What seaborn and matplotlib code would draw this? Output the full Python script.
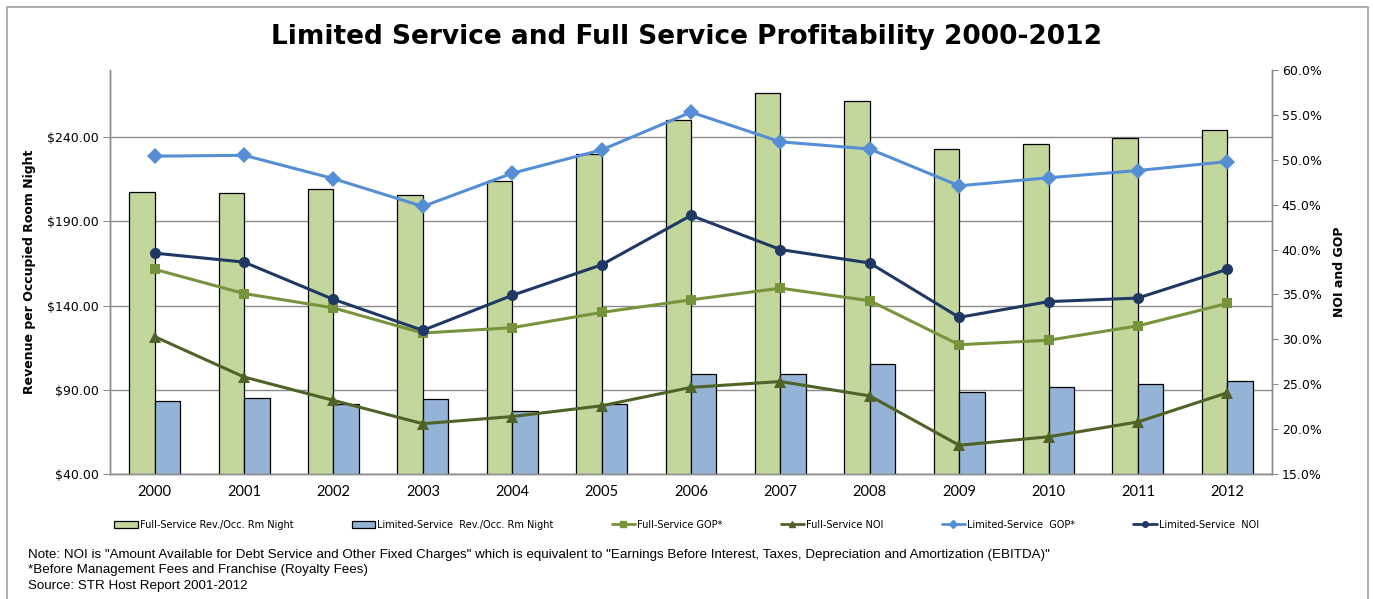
import numpy as np
import pandas as pd
import matplotlib
matplotlib.use("Agg")
import matplotlib.pyplot as plt
from matplotlib.patches import Rectangle, Patch
from matplotlib.lines import Line2D
from matplotlib.ticker import FuncFormatter, FixedLocator
import seaborn as sns

# values
years = ["2000", "2001", "2002", "2003", "2004", "2005", "2006",
         "2007", "2008", "2009", "2010", "2011", "2012"]
full_rev = [207.5, 206.9, 209.1, 206.0, 213.9, 230.1, 250.5,
            266.3, 261.5, 233.3, 236.3, 239.8, 244.6]
limited_rev = [83.5, 84.9, 81.5, 84.3, 77.6, 81.5, 99.2,
               99.2, 105.1, 88.7, 91.4, 93.4, 95.2]
full_gop = [37.8, 35.1, 33.5, 30.7, 31.3, 33.0, 34.4,
            35.7, 34.3, 29.4, 29.9, 31.5, 34.0]
full_noi = [30.3, 25.8, 23.2, 20.6, 21.4, 22.6, 24.65,
            25.3, 23.7, 18.2, 19.15, 20.8, 24.05]
limited_gop = [50.4, 50.5, 47.9, 44.8, 48.5, 51.1, 55.3,
               52.0, 51.2, 47.1, 48.0, 48.8, 49.8]
limited_noi = [39.6, 38.6, 34.45, 31.0, 34.9, 38.3, 43.8,
               40.0, 38.5, 32.45, 34.2, 34.6, 37.8]

bar_names = ["Full-Service Rev./Occ. Rm Night", "Limited-Service  Rev./Occ. Rm Night"]
bar_colors = ["#C3D69B", "#95B3D7"]

sns.set_style("white")
plt.rcParams["font.family"] = ["DejaVu Sans"]
plt.rcParams["text.color"] = "black"
plt.rcParams["axes.labelcolor"] = "black"
plt.rcParams["xtick.labelcolor"] = "black"
plt.rcParams["ytick.labelcolor"] = "black"

fig = plt.figure(figsize=(13.73, 5.99), dpi=100)
ax = fig.add_axes([110 / 1373, 1 - 474 / 599, (1272 - 110) / 1373, (474 - 70) / 599])

# bars
bars = pd.DataFrame({
    "year": years * 2,
    "value": full_rev + limited_rev,
    "series": [bar_names[0]] * len(years) + [bar_names[1]] * len(years),
})
sns.barplot(data=bars, x="year", y="value", hue="series", palette=bar_colors,
            width=0.57, edgecolor="black", linewidth=0.9, saturation=1,
            legend=False, ax=ax)

ax.set_ylim(40, 280)
ax.set_yticks([40, 90, 140, 190, 240])
ax.yaxis.set_major_formatter(FuncFormatter(lambda v, p: f"${v:.2f}"))
ax.yaxis.grid(True, color="#8c8c8c", linewidth=1)
ax.set_axisbelow(True)
ax.set_xlabel("")
ax.set_ylabel("Revenue per Occupied Room Night", fontsize=9, fontweight="bold", labelpad=8)

# secondary axis with the margin lines
ax2 = ax.twinx()
xpos = np.arange(len(years))
lines = [
    ("Full-Service GOP*", full_gop, "#77933C", "s", 7),
    ("Full-Service NOI", full_noi, "#4F6228", "^", 8),
    ("Limited-Service  GOP*", limited_gop, "#558ED5", "D", 8),
    ("Limited-Service  NOI", limited_noi, "#1F3864", "o", 8),
]
for name, vals, col, mk, ms in lines:
    sns.lineplot(x=xpos, y=np.array(vals) / 100, ax=ax2, color=col, marker=mk,
                 markersize=ms, markeredgewidth=0, linewidth=2.2, legend=False)

ax2.set_ylim(0.15, 0.60)
ax2.set_yticks(np.arange(0.15, 0.6001, 0.05))
ax2.yaxis.set_major_formatter(FuncFormatter(lambda v, p: f"{v * 100:.1f}%"))
ax2.set_ylabel("NOI and GOP", fontsize=9, fontweight="bold", labelpad=8)
ax2.grid(False)

ax.set_xlim(-0.5, len(years) - 0.5)
ax.set_xticks(xpos)
ax.set_xticklabels(years, fontsize=10.5, family="Lato")
ax.xaxis.set_minor_locator(FixedLocator(np.arange(-0.5, len(years), 1)))
ax.tick_params(axis="x", which="major", length=0, pad=8)
ax.tick_params(axis="x", which="minor", length=5, color="#8c8c8c", direction="out")
ax.tick_params(axis="y", length=5, color="#8c8c8c", direction="out", labelsize=9, pad=3)
ax2.tick_params(axis="y", length=4, color="#8c8c8c", direction="out", labelsize=9, pad=3)

for a in (ax, ax2):
    a.spines["top"].set_visible(False)
    for s in ("left", "right", "bottom"):
        a.spines[s].set_color("#8c8c8c")
        a.spines[s].set_linewidth(1)

fig.text(0.5, 1 - 37 / 599, "Limited Service and Full Service Profitability 2000-2012",
         ha="center", va="center", fontsize=19, fontweight="bold", color="black")

# legend along the bottom
handles = [Patch(facecolor=c, edgecolor="black", linewidth=0.9) for c in bar_colors]
handles += [Line2D([], [], color=col, marker=mk, markersize=4, linewidth=2)
            for name, vals, col, mk, ms in lines]
labels = bar_names + [l[0] for l in lines]
fig.legend(handles, labels, loc="center", bbox_to_anchor=(0.5, 1 - 525 / 599),
           ncol=6, frameon=False, fontsize=7, columnspacing=6.0,
           handlelength=2.4, handletextpad=0.2, handleheight=0.8)

notes = [
    'Note: NOI is "Amount Available for Debt Service and Other Fixed Charges" which is equivalent to '
    '"Earnings Before Interest, Taxes, Depreciation and Amortization (EBITDA)"',
    "*Before Management Fees and Franchise (Royalty Fees)",
    "Source: STR Host Report 2001-2012",
]
for i, t in enumerate(notes):
    fig.text(28 / 1373, 1 - (555 + 15.5 * i) / 599, t, ha="left", va="center",
             fontsize=9.6, family="Liberation Sans", color="black")

# outer frame like the original chart box
fig.patches.append(Rectangle((7 / 1373, -0.05), (1368 - 7) / 1373, 1.05 - 7 / 599,
                             transform=fig.transFigure, fill=False,
                             edgecolor="#a0a0a0", linewidth=1.2))

fig.savefig("out.png", dpi=100)
